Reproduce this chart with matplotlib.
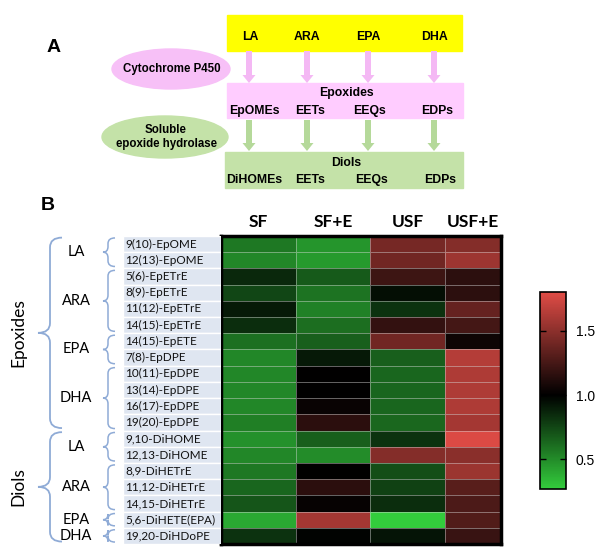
import numpy as np
import matplotlib.pyplot as plt
from matplotlib.colors import LinearSegmentedColormap
from matplotlib.patches import Rectangle, Ellipse, FancyArrow, PathPatch
from matplotlib.path import Path

plt.rcParams['font.family'] = ['Lato', 'DejaVu Sans']

# ---- data ----
conditions = ["SF", "SF+E", "USF", "USF+E"]
metabolites = ["9(10)-EpOME", "12(13)-EpOME", "5(6)-EpETrE", "8(9)-EpETrE",
               "11(12)-EpETrE", "14(15)-EpETrE", "14(15)-EpETE", "7(8)-EpDPE",
               "10(11)-EpDPE", "13(14)-EpDPE", "16(17)-EpDPE", "19(20)-EpDPE",
               "9,10-DiHOME", "12,13-DiHOME", "8,9-DiHETrE", "11,12-DiHETrE",
               "14,15-DiHETrE", "5,6-DiHETE(EPA)", "19,20-DiHDoPE"]
sf = [0.57, 0.52, 0.86, 0.75, 0.91, 0.84, 0.60, 0.52, 0.52, 0.52,
      0.52, 0.55, 0.48, 0.52, 0.57, 0.64, 0.70, 0.40, 0.82]
sf_e = [0.47, 0.45, 0.68, 0.59, 0.54, 0.61, 0.66, 0.91, 1.00, 1.00,
        1.03, 1.15, 0.66, 0.50, 1.00, 1.15, 1.02, 1.58, 0.99]
usf = [1.42, 1.40, 1.22, 0.95, 0.82, 1.18, 1.40, 0.66, 0.64, 0.64,
       0.64, 0.63, 0.82, 1.47, 0.72, 0.77, 0.84, 0.27, 0.93]
usf_e = [1.47, 1.56, 1.16, 1.16, 1.36, 1.24, 1.05, 1.64, 1.62, 1.62,
         1.62, 1.58, 1.78, 1.49, 1.55, 1.31, 1.27, 1.29, 1.20]

inner_groups = ["LA", "ARA", "EPA", "DHA", "LA", "ARA", "EPA", "DHA"]
inner_sizes = [2, 4, 2, 4, 2, 3, 1, 1]
outer_groups = ["Epoxides", "Diols"]
outer_sizes = [12, 7]

fatty_acids = ["LA", "ARA", "EPA", "DHA"]
epoxide_names = ["EpOMEs", "EETs", "EEQs", "EDPs"]
diol_names = ["DiHOMEs", "EETs", "EEQs", "EDPs"]

W, H = 600, 551
fig = plt.figure(figsize=(6, 5.51), dpi=100)

# ---- panel A: pathway scheme (pixel coords) ----
axa = fig.add_axes([0, 1 - 200 / H, 1, 200 / H])
axa.set_xlim(0, 600)
axa.set_ylim(200, 0)
axa.axis("off")
bold = dict(family=["Liberation Sans", "DejaVu Sans"], weight="bold")

axa.text(54, 47, "A", fontsize=14, ha="center", va="center", **bold)
axa.add_patch(Rectangle((227, 15), 235, 36, color="#ffff00"))
axa.add_patch(Rectangle((227, 83), 236, 35, color="#ffccff"))
axa.add_patch(Rectangle((225, 152), 238, 36, color="#c4e2a8"))
axa.add_patch(Ellipse((171, 69), 118, 40, color="#f7c0f7"))
axa.add_patch(Ellipse((165, 137), 126, 42, color="#c4e2a8"))
axa.text(172, 69, "Cytochrome P450", fontsize=8.3, ha="center", va="center", **bold)
axa.text(166, 137, "Soluble\nepoxide hydrolase", fontsize=8.3, ha="center",
         va="center", linespacing=1.3, **bold)

arrow_x = [249, 307, 368, 434]
fa_x = [250, 307, 368, 434]
epo_x = [254, 310, 369, 437]
diol_x = [254, 310, 371, 440]
for i in range(4):
    axa.add_patch(FancyArrow(arrow_x[i], 51, 0, 32, width=6, head_width=13,
                             head_length=8, length_includes_head=True,
                             color="#f4b8f4", lw=0))
    axa.add_patch(FancyArrow(arrow_x[i], 120, 0, 31, width=6, head_width=13,
                             head_length=8, length_includes_head=True,
                             color="#b5d99a", lw=0))
    axa.text(fa_x[i], 37, fatty_acids[i], fontsize=8.8, ha="center", va="center", **bold)
    axa.text(epo_x[i], 111, epoxide_names[i], fontsize=8.8, ha="center", va="center", **bold)
    axa.text(diol_x[i], 180, diol_names[i], fontsize=8.8, ha="center", va="center", **bold)
axa.text(346, 93, "Epoxides", fontsize=8.8, ha="center", va="center", **bold)
axa.text(346, 163, "Diols", fontsize=8.8, ha="center", va="center", **bold)

# ---- panel B: heatmap ----
bottom, height = 7 / H, 308 / H
n = len(metabolites)
data = np.column_stack([sf, sf_e, usf, usf_e])

cmap = LinearSegmentedColormap.from_list(
    "gbr", [(0, "#33cc3c"), (0.477, "#000000"), (1, "#e04c46")])
vmin, vmax = 0.27, 1.8

ax = fig.add_axes([221 / W, bottom, 280 / W, height])
xedges = [0, 1, 2, 3, 3.75]
mesh = ax.pcolormesh(xedges, np.arange(n + 1), data, cmap=cmap, vmin=vmin,
                     vmax=vmax, edgecolors=(0.85, 0.85, 0.85, 0.45), linewidth=0.6)
ax.set_xlim(0, 3.75)
ax.set_ylim(n, 0)
ax.set_xticks([])
ax.set_yticks([])
for s in ax.spines.values():
    s.set_linewidth(2.5)
for i, c in enumerate(conditions):
    xc = (xedges[i] + xedges[i + 1]) / 2
    ax.text(xc, -0.85, c, ha="center", va="center", fontsize=12.5,
            fontweight="bold", clip_on=False)

fig.text(48 / W, 1 - 206 / H, "B", fontsize=14, ha="center", va="center", **bold)

# row labels
axl = fig.add_axes([123 / W, bottom, 98 / W, height])
axl.barh(np.arange(n) + 0.5, 1, height=1, color="#dfe6f1", edgecolor="white", lw=1)
axl.set_xlim(0, 1)
axl.set_ylim(n, 0)
axl.axis("off")
for i, m in enumerate(metabolites):
    axl.text(0.02, i + 0.5, m, fontsize=8.5, va="center", ha="left", color="#111111")

# braces
axb = fig.add_axes([0, bottom, 123 / W, height])
axb.set_xlim(0, 123)
axb.set_ylim(n, 0)
axb.axis("off")


def brace(x, y0, y1, hook, tip, r, lw):
    ym = (y0 + y1) / 2
    verts = [(x + hook, y0), (x, y0), (x, y0 + r),
             (x, ym - r), (x, ym), (x - tip, ym),
             (x, ym), (x, ym + r),
             (x, y1 - r), (x, y1), (x + hook, y1)]
    codes = [Path.MOVETO, Path.CURVE3, Path.CURVE3, Path.LINETO, Path.CURVE3,
             Path.CURVE3, Path.CURVE3, Path.CURVE3, Path.LINETO, Path.CURVE3,
             Path.CURVE3]
    axb.add_patch(PathPatch(Path(verts, codes), fill=False, ec="#8fabd6", lw=lw))
    return ym


start = 0
for g, size in zip(inner_groups, inner_sizes):
    ym = brace(108, start + 0.12, start + size - 0.12, 7, 5, 0.35, 1.1)
    axb.text(76, ym, g, fontsize=10.5, ha="center", va="center")
    start += size

start = 0
for g, size in zip(outer_groups, outer_sizes):
    ym = brace(50, start + 0.1, start + size - 0.15, 12, 12, 0.6, 1.3)
    axb.text(18, ym, g, fontsize=12.5, ha="center", va="center", rotation=90)
    start += size

# colorbar
cax = fig.add_axes([540 / W, 1 - 489 / H, 26 / W, 197 / H])
cb = fig.colorbar(mesh, cax=cax, ticks=[0.5, 1.0, 1.5])
cb.ax.set_yticklabels(["0.5", "1.0", "1.5"], family=["Liberation Sans"])
cb.ax.tick_params(direction="in", left=True, right=True, length=4, width=1,
                  labelsize=10, pad=7)
cb.outline.set_linewidth(1.2)

fig.savefig("out.png", dpi=100)
